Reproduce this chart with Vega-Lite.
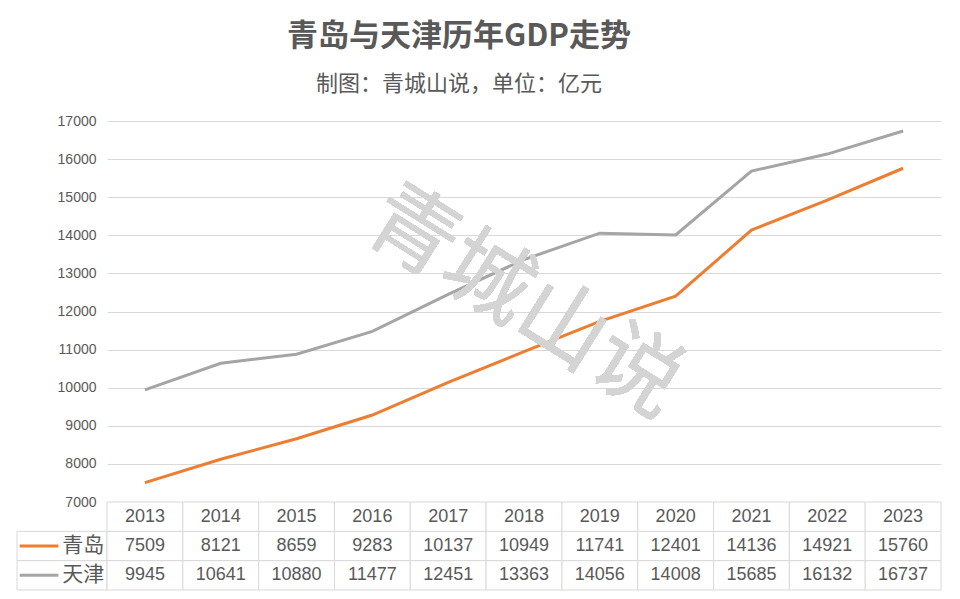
{
  "$schema": "https://vega.github.io/schema/vega-lite/v6.json",
  "background": "white",
  "padding": {"left": 16, "top": 21, "right": 20, "bottom": 8},
  "title": {
    "text": "青岛与天津历年GDP走势",
    "subtitle": "制图：青城山说，单位：亿元",
    "anchor": "middle",
    "dx": -20,
    "font": "Noto Sans CJK SC",
    "fontSize": 31,
    "fontWeight": "bold",
    "color": "#595959",
    "subtitleFont": "Noto Sans CJK SC",
    "subtitleFontSize": 22,
    "subtitleColor": "#595959",
    "subtitlePadding": 21,
    "offset": 18
  },
  "data": {
    "values": [
      {"year": 2013, "city": "青岛", "gdp": 7509},
      {"year": 2014, "city": "青岛", "gdp": 8121},
      {"year": 2015, "city": "青岛", "gdp": 8659},
      {"year": 2016, "city": "青岛", "gdp": 9283},
      {"year": 2017, "city": "青岛", "gdp": 10137},
      {"year": 2018, "city": "青岛", "gdp": 10949},
      {"year": 2019, "city": "青岛", "gdp": 11741},
      {"year": 2020, "city": "青岛", "gdp": 12401},
      {"year": 2021, "city": "青岛", "gdp": 14136},
      {"year": 2022, "city": "青岛", "gdp": 14921},
      {"year": 2023, "city": "青岛", "gdp": 15760},
      {"year": 2013, "city": "天津", "gdp": 9945},
      {"year": 2014, "city": "天津", "gdp": 10641},
      {"year": 2015, "city": "天津", "gdp": 10880},
      {"year": 2016, "city": "天津", "gdp": 11477},
      {"year": 2017, "city": "天津", "gdp": 12451},
      {"year": 2018, "city": "天津", "gdp": 13363},
      {"year": 2019, "city": "天津", "gdp": 14056},
      {"year": 2020, "city": "天津", "gdp": 14008},
      {"year": 2021, "city": "天津", "gdp": 15685},
      {"year": 2022, "city": "天津", "gdp": 16132},
      {"year": 2023, "city": "天津", "gdp": 16737}
    ]
  },
  "columns": 2,
  "spacing": 0,
  "bounds": "flush",
  "concat": [
    {
      "width": 90,
      "height": 381,
      "data": {"values": []},
      "mark": "point"
    },
    {
      "width": 834,
      "height": 381,
      "layer": [
        {
          "mark": {"type": "line", "strokeWidth": 3},
          "encoding": {
            "x": {"field": "year", "type": "ordinal", "scale": {"type": "point", "padding": 0.5}, "axis": null},
            "y": {
              "field": "gdp", "type": "quantitative",
              "scale": {"domain": [7000, 17000], "nice": false, "zero": false},
              "axis": {
                "values": [7000, 8000, 9000, 10000, 11000, 12000, 13000, 14000, 15000, 16000, 17000],
                "tickCount": 20, "format": "d", "labelOverlap": false,
                "grid": true, "gridColor": "#d9d9d9", "domain": false, "ticks": false,
                "labelColor": "#595959", "labelFontSize": 14, "labelFont": "Liberation Sans",
                "labelPadding": 11, "title": null
              }
            },
            "color": {
              "field": "city", "type": "nominal",
              "scale": {"domain": ["青岛", "天津"], "range": ["#ed7d31", "#a5a5a5"]},
              "legend": null
            }
          }
        },
        {
          "mark": {"type": "text", "text": "青城山说", "angle": 32, "fontSize": 88, "color": "#d4d4d4", "opacity": 0.5, "font": "Noto Sans CJK SC"},
          "encoding": {
            "x": {"datum": 2018, "type": "ordinal"},
            "y": {
              "datum": 12200, "type": "quantitative",
              "axis": {
                "values": [7000, 8000, 9000, 10000, 11000, 12000, 13000, 14000, 15000, 16000, 17000],
                "tickCount": 20, "format": "d", "labelOverlap": false,
                "grid": true, "gridColor": "#d9d9d9", "domain": false, "ticks": false,
                "labelColor": "#595959", "labelFontSize": 14, "labelFont": "Liberation Sans",
                "labelPadding": 11, "title": null
              }
            }
          }
        }
      ]
    },
    {
      "width": 90,
      "height": 88,
      "transform": [{"filter": "datum.year == 2013"}],
      "layer": [
        {
          "mark": {"type": "rect", "fill": "white", "stroke": "#d9d9d9", "strokeWidth": 1},
          "encoding": {
            "x": {"datum": 0, "type": "quantitative", "scale": {"domain": [0, 1], "nice": false, "zero": false}, "axis": null},
            "x2": {"datum": 1},
            "y": {"field": "city", "type": "ordinal", "scale": {"domain": ["hdr", "青岛", "天津"], "paddingInner": 0, "paddingOuter": 0}, "axis": null}
          }
        },
        {
          "mark": {"type": "rule", "strokeWidth": 3},
          "encoding": {
            "x": {"datum": 0.03, "type": "quantitative"},
            "x2": {"datum": 0.46},
            "y": {"field": "city", "type": "ordinal"},
            "color": {
              "field": "city", "type": "nominal",
              "scale": {"domain": ["青岛", "天津"], "range": ["#ed7d31", "#a5a5a5"]},
              "legend": null
            }
          }
        },
        {
          "mark": {"type": "text", "align": "center", "fontSize": 21, "color": "#595959", "font": "Noto Sans CJK SC"},
          "encoding": {
            "x": {"datum": 0.735, "type": "quantitative"},
            "y": {"field": "city", "type": "ordinal"},
            "text": {"field": "city", "type": "nominal"}
          }
        }
      ]
    },
    {
      "width": 834,
      "height": 88,
      "layer": [
        {
          "mark": {"type": "rect", "fill": "white", "stroke": "#d9d9d9", "strokeWidth": 1},
          "encoding": {
            "x": {"field": "year", "type": "ordinal", "scale": {"paddingInner": 0, "paddingOuter": 0}, "axis": null},
            "y": {"field": "city", "type": "ordinal", "scale": {"domain": ["hdr", "青岛", "天津"], "paddingInner": 0, "paddingOuter": 0}, "axis": null}
          }
        },
        {
          "transform": [{"filter": "datum.city == '青岛'"}],
          "mark": {"type": "rect", "fill": "white", "stroke": "#d9d9d9", "strokeWidth": 1},
          "encoding": {
            "x": {"field": "year", "type": "ordinal"},
            "y": {"datum": "hdr", "type": "ordinal"}
          }
        },
        {
          "mark": {"type": "text", "fontSize": 18, "color": "#595959", "font": "Liberation Sans"},
          "encoding": {
            "x": {"field": "year", "type": "ordinal"},
            "y": {"field": "city", "type": "ordinal"},
            "text": {"field": "gdp", "type": "quantitative", "format": "d"}
          }
        },
        {
          "transform": [{"filter": "datum.city == '青岛'"}],
          "mark": {"type": "text", "fontSize": 18, "color": "#595959", "font": "Liberation Sans"},
          "encoding": {
            "x": {"field": "year", "type": "ordinal"},
            "y": {"datum": "hdr", "type": "ordinal"},
            "text": {"field": "year", "type": "ordinal"}
          }
        }
      ]
    }
  ],
  "resolve": {"scale": {"x": "independent", "y": "independent", "color": "independent"}},
  "config": {"view": {"stroke": null}, "font": "Noto Sans CJK SC"}
}
